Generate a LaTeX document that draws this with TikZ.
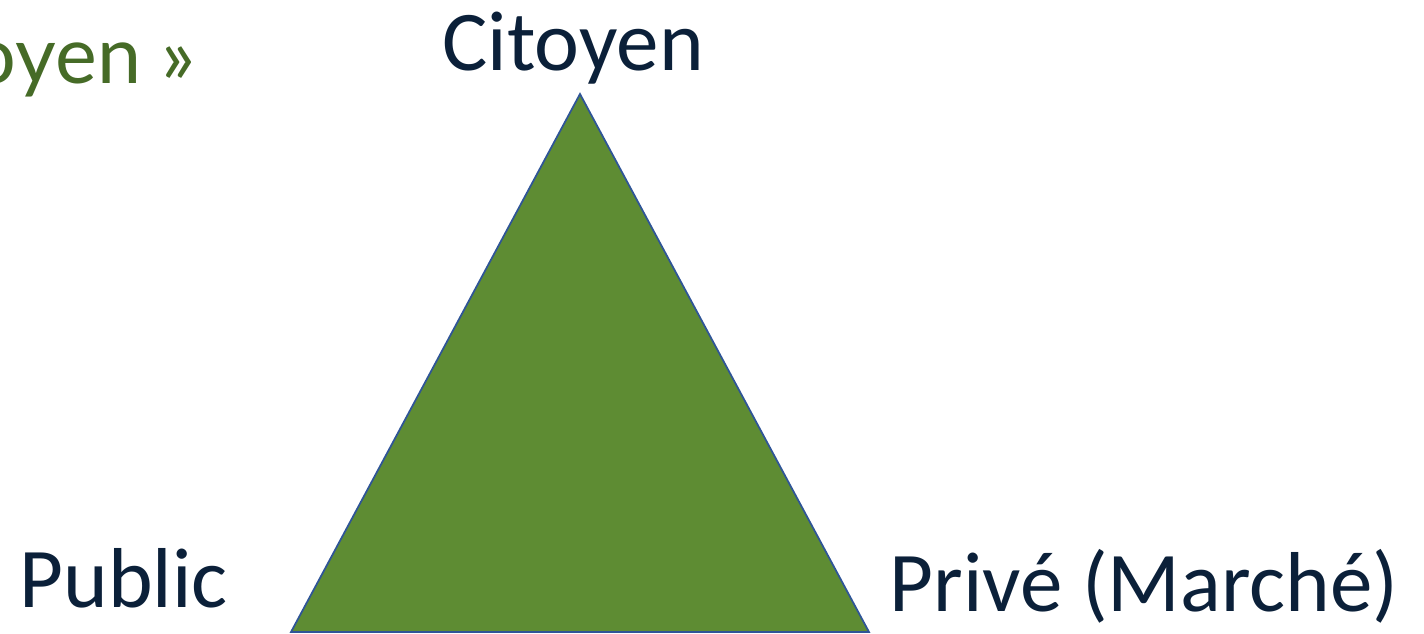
\documentclass[tikz,border=0pt]{standalone}
\usepackage{fontspec}
\setmainfont{Carlito}
\newfontfamily\titlefont{Lato}
\usetikzlibrary{positioning}
\definecolor{navy}{HTML}{0B2039}
\definecolor{leaf}{HTML}{5E8C33}
\definecolor{edge}{HTML}{2F5597}
\definecolor{moss}{HTML}{466B27}
\begin{document}
\begin{tikzpicture}[x=0.1mm,y=0.1mm,every node/.style={inner sep=0pt,text=navy,font=\fontsize{24.2}{29}\selectfont}]
  \useasboundingbox (0,0) rectangle (1424,633);
  \coordinate (top) at (580,539);
  \coordinate (left) at (291,1);
  \coordinate (right) at (869,1);

  \node[anchor=base](citoyen) at (573,563){Citoyen};
  \node[anchor=base west](public) at (19,26){Public};
  \node[anchor=base west](prive) at (889,22){Privé (Marché)};
  \node[anchor=base east,text=moss,font=\titlefont\fontsize{22.5}{27}\selectfont](titre) at (196,550){oyen »};

  \draw[edge,line width=0.5pt,fill=leaf](top)--(left)--(right)--cycle;
\end{tikzpicture}
\end{document}
